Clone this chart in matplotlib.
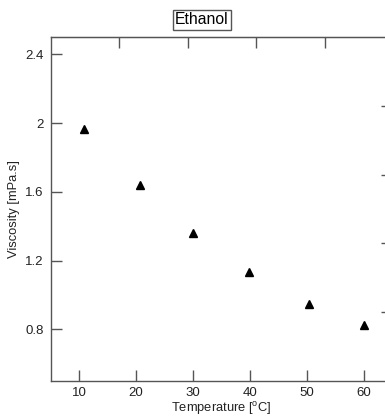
import matplotlib
matplotlib.use("Agg")
import matplotlib.pyplot as plt

# data
temperature = [10.9, 20.7, 30.0, 39.9, 50.4, 60.0]
viscosity = [1.968, 1.638, 1.360, 1.134, 0.947, 0.823]

x_ticks = [10, 20, 30, 40, 50, 60]
y_ticks = [0.8, 1.2, 1.6, 2.0, 2.4]
y_ticklabels = ["0.8", "1.2", "1.6", "2", "2.4"]

plt.rcParams["font.family"] = ["Liberation Sans", "DejaVu Sans"]
plt.rcParams["mathtext.fontset"] = "custom"
plt.rcParams["mathtext.rm"] = "Liberation Sans"

SPINE = "#555555"
TEXT = "#222222"
TICK_LEN = 8  # points (~11 px)

fig = plt.figure(figsize=(3.85, 4.16), dpi=100)
ax = fig.add_axes([0.132, 0.084, 0.886, 0.827])

ax.plot(temperature, viscosity, linestyle="none", marker="^",
        markersize=6, color="black", clip_on=False)

ax.set_xlim(5, 65)
ax.set_ylim(0.5, 2.5)
ax.set_xticks(x_ticks)
ax.set_yticks(y_ticks)
ax.set_yticklabels(y_ticklabels)

ax.tick_params(axis="both", direction="in", length=TICK_LEN, width=1,
               color=SPINE, labelcolor=TEXT, labelsize=9.5, pad=5)
ax.tick_params(axis="x", pad=4)
for s in ax.spines.values():
    s.set_color(SPINE)
    s.set_linewidth(1)

# unlabelled top and right axes
ax_top = ax.secondary_xaxis("top")
ax_top.set_xticks([17.0, 29.05, 41.1, 53.15])
ax_top.tick_params(direction="in", length=TICK_LEN, width=1, color=SPINE,
                   labeltop=False)
ax_top.spines["top"].set_color(SPINE)

ax_right = ax.secondary_yaxis("right")
ax_right.set_yticks([0.9, 1.3, 1.7, 2.1])
ax_right.tick_params(direction="in", length=TICK_LEN, width=1, color=SPINE,
                     labelright=False)
ax_right.spines["right"].set_color(SPINE)

ax.set_xlabel("Temperature [$^{\\rm o}$C]", fontsize=9.3, color=TEXT)
ax.xaxis.set_label_coords(0.5, -27 / 344)
ax.xaxis.label.set_va("center")
ax.set_ylabel("Viscosity [mPa.s]", fontsize=9.3, color=TEXT, labelpad=4)

fig.text(202 / 385, 1 - 20 / 416, "Ethanol", ha="center", va="center",
         fontsize=11.3, color="black",
         bbox=dict(boxstyle="square,pad=0.15", facecolor="white",
                   edgecolor=SPINE, linewidth=1))

plt.savefig("out.png", dpi=100)
plt.close()
